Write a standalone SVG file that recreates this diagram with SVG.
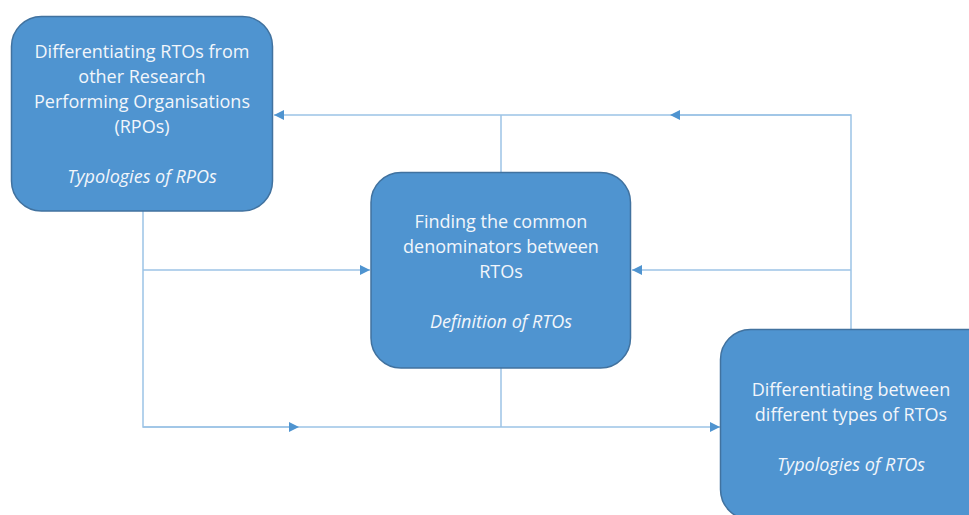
<svg xmlns="http://www.w3.org/2000/svg" width="969" height="515" viewBox="0 0 969 515">
  <defs>
    <marker id="arrow" viewBox="0 0 10 10" refX="10" refY="5" markerWidth="10" markerHeight="10" markerUnits="userSpaceOnUse" orient="auto">
      <path d="M0,0 L10,5 L0,10 Z" fill="#4f94d0"/>
    </marker>
    <marker id="arrowMid" viewBox="0 0 10 10" refX="5" refY="5" markerWidth="10" markerHeight="10" markerUnits="userSpaceOnUse" orient="auto">
      <path d="M0,0 L10,5 L0,10 Z" fill="#4f94d0"/>
    </marker>
  </defs>
  <style>
    .box { fill: #4f94d0; stroke: #41729f; stroke-width: 1.5; }
    .lbl { font-family: "Open Sans", "Liberation Sans", sans-serif; font-size: 18px; fill: #f2f6fb; text-anchor: middle; }
    .it { font-style: italic; }
    .wire { fill: none; stroke: #9cc3e6; stroke-width: 1.5; }
  </style>
  <rect width="969" height="515" fill="#ffffff"/>

  <g id="connectors">
    <!-- top rail: right side feeds back to RPO box -->
    <path class="wire" d="M851,329 V115 H274" marker-end="url(#arrow)"/>
    <path class="wire" d="M851,115 H675" marker-end="url(#arrowMid)"/>
    <path class="wire" d="M501,172 V115"/>
    <!-- middle rail -->
    <path class="wire" d="M851,270 H632" marker-end="url(#arrow)"/>
    <path class="wire" d="M143,211 V427 H720" marker-end="url(#arrow)"/>
    <path class="wire" d="M143,270 H370" marker-end="url(#arrow)"/>
    <path class="wire" d="M143,427 H294" marker-end="url(#arrowMid)"/>
    <path class="wire" d="M501,368 V427"/>
  </g>

  <g id="node-rpo">
    <rect class="box" x="11.5" y="16.5" width="261" height="194.5" rx="30" ry="30"/>
    <text class="lbl" x="142" y="58">Differentiating RTOs from</text>
    <text class="lbl" x="142" y="83">other Research</text>
    <text class="lbl" x="142" y="108">Performing Organisations</text>
    <text class="lbl" x="142" y="133">(RPOs)</text>
    <text class="lbl it" x="142" y="183">Typologies of RPOs</text>
  </g>

  <g id="node-definition">
    <rect class="box" x="371" y="172.5" width="259.5" height="195.5" rx="30" ry="30"/>
    <text class="lbl" x="501" y="228">Finding the common</text>
    <text class="lbl" x="501" y="253">denominators between</text>
    <text class="lbl" x="501" y="278">RTOs</text>
    <text class="lbl it" x="501" y="328">Definition of RTOs</text>
  </g>

  <g id="node-rto-types">
    <rect class="box" x="720.5" y="329.5" width="280" height="190" rx="30" ry="30"/>
    <text class="lbl" x="851" y="396">Differentiating between</text>
    <text class="lbl" x="851" y="421">different types of RTOs</text>
    <text class="lbl it" x="851" y="471">Typologies of RTOs</text>
  </g>
</svg>
